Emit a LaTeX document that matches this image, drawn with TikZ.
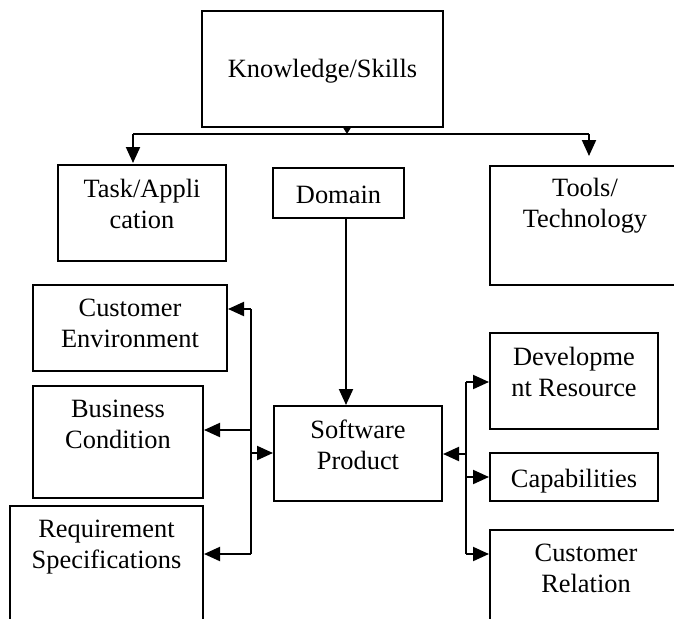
\documentclass[tikz,border=0pt]{standalone}
\usepackage{fontspec}
\setmainfont{Liberation Serif}
\usetikzlibrary{arrows.meta}
\begin{document}
\begin{tikzpicture}[x=1pt,y=-1pt,
  box/.style={draw,line width=2pt,inner sep=0pt,rectangle},
  lbl/.style={inner sep=0pt,anchor=north,align=center,
    font=\fontsize{26.4}{31}\selectfont,execute at begin node={\strut}},
  wire/.style={line width=2pt},
  arr/.style={wire,-{Triangle[length=16pt,width=14pt]}},
  tick/.style={wire,-{Triangle[length=6pt,width=7pt]}}]
\useasboundingbox (0,0) rectangle (674,618);
\clip (0,0) rectangle (674,618);

% boxes
\node[box,minimum width=241,minimum height=116] (ks)    at (322.5,69)  {};
\node[box,minimum width=168,minimum height=96]  (task)  at (142,213)   {};
\node[box,minimum width=131,minimum height=50]  (dom)   at (338.5,193) {};
\node[box,minimum width=190,minimum height=119] (tools) at (585,225.5) {};
\node[box,minimum width=194,minimum height=86]  (ce)    at (130,328)   {};
\node[box,minimum width=170,minimum height=112] (bc)    at (118,442)   {};
\node[box,minimum width=193,minimum height=134] (rs)    at (106.5,573) {};
\node[box,minimum width=168,minimum height=95]  (sp)    at (358,453.5) {};
\node[box,minimum width=168,minimum height=96]  (dr)    at (574,381)   {};
\node[box,minimum width=168,minimum height=48]  (cap)   at (574,477)   {};
\node[box,minimum width=192,minimum height=110] (cr)    at (586,585)   {};

% labels (first baseline sits 21.7 below the node top)
\node[lbl] (ks-t)    at (322.5,55.3) {Knowledge/Skills};
\node[lbl] (task-t)  at (142,178.8)  {Task/Appli\\cation};
\node[lbl] (dom-t)   at (338.5,181.3){Domain};
\node[lbl] (tools-t) at (585,178.3)  {Tools/\\Technology};
\node[lbl] (ce-t)    at (130,299)    {Customer\\Environment};
\node[lbl] (bc-t)    at (118,399.8)  {Business\\Condition};
\node[lbl] (rs-t)    at (106.5,519.8){Requirement\\Specifications};
\node[lbl] (sp-t)    at (358,419.3)  {Software\\Product};
\node[lbl] (dr-t)    at (574,346.8)  {Developme\\nt Resource};
\node[lbl] (cap-t)   at (574,465.8)  {Capabilities};
\node[lbl] (cr-t)    at (586,543.8)  {Customer\\Relation};

% top distribution bus
\coordinate (busL) at (133,134);
\coordinate (busM) at (347,134);
\coordinate (busR) at (589,134);
\draw[tick] (ks.south -| busM) -- (busM);
\draw[wire] (busL) -- (busR);
\draw[arr,shorten >=1pt] (busL) -- (task.north -| busL);
\draw[arr,shorten >=9pt] (busR) -- (tools.north -| busR);

% domain feeds the product
\coordinate (dx) at (346,0);
\draw[arr] (dom.south -| dx) -- (sp.north -| dx);

% left bus
\coordinate (l1) at (251,309);
\coordinate (l2) at (251,430);
\coordinate (l4) at (251,453);
\coordinate (l3) at (251,554);
\draw[wire] (l1) -- (l3);
\draw[arr] (l1) -- (l1 -| ce.east);
\draw[arr] (l2) -- (l2 -| bc.east);
\draw[arr] (l3) -- (l3 -| rs.east);
\draw[arr] (l4) -- (l4 -| sp.west);

% right bus
\coordinate (r1) at (466,382);
\coordinate (r2) at (466,454);
\coordinate (r3) at (466,477);
\coordinate (r4) at (466,554);
\draw[wire] (r1) -- (r4);
\draw[arr] (r2) -- (r2 -| sp.east);
\draw[arr] (r1) -- (r1 -| dr.west);
\draw[arr] (r3) -- (r3 -| cap.west);
\draw[arr] (r4) -- (r4 -| cr.west);
\end{tikzpicture}
\end{document}
